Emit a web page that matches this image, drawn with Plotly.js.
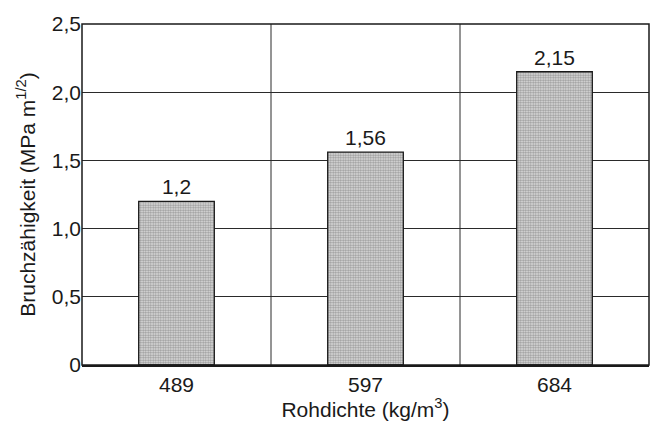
<!DOCTYPE html>
<html>
<head>
<meta charset="utf-8">
<script src="https://cdn.plot.ly/plotly-3.0.1.min.js"></script>
<style>html,body{margin:0;padding:0;background:#fff;}#chart{width:656px;height:421px;}</style>
</head>
<body>
<div id="chart"></div>
<script>
const categories = ["489", "597", "684"];
const values = [1.2, 1.56, 2.15];
const valueLabels = ["1,2", "1,56", "2,15"];
const yTickVals = [0, 0.5, 1.0, 1.5, 2.0, 2.5];
const yTickText = ["0", "0,5", "1,0", "1,5", "2,0", "2,5"];
const dividers = [0.5, 1.5];

const fam = "Arial, 'Liberation Sans', sans-serif";
const ink = "#1a1a1a";

const trace = {
  type: "bar",
  x: categories,
  y: values,
  text: valueLabels,
  textposition: "outside",
  textfont: {family: fam, size: 21, color: ink},
  cliponaxis: false,
  marker: {
    color: "#d4d4d4",
    line: {color: ink, width: 1.3},
    pattern: {shape: ".", size: 2.5, solidity: 0.55, fgcolor: "#9a9a9a", bgcolor: "#e4e4e4"}
  },
  hoverinfo: "none"
};

const shapes = dividers.map(d => ({
  type: "line", xref: "x", yref: "paper", x0: d, x1: d, y0: 0, y1: 1,
  line: {color: "#2a2a2a", width: 1}, layer: "below"
}));
shapes.push({type: "rect", xref: "paper", yref: "paper", x0: 0, x1: 1, y0: 0, y1: 1,
  line: {color: ink, width: 1.5}, fillcolor: "rgba(0,0,0,0)", layer: "above"});

const layout = {
  width: 656, height: 421,
  margin: {l: 82, r: 7, t: 24, b: 56},
  paper_bgcolor: "#fff", plot_bgcolor: "#fff",
  font: {family: fam, color: ink, size: 20},
  showlegend: false,
  bargap: 0.6,
  shapes: shapes,
  xaxis: {
    type: "category",
    tickfont: {family: fam, size: 21, color: ink},
    ticks: "", showgrid: false, zeroline: false,
    showline: true, linecolor: ink, linewidth: 2,
    title: {text: "Rohdichte (kg/m<sup>3</sup>)", font: {family: fam, size: 21, color: ink}, standoff: 0},
    range: [-0.5, 2.5]
  },
  yaxis: {
    range: [0, 2.5],
    tickvals: yTickVals, ticktext: yTickText,
    tickfont: {family: fam, size: 21, color: ink},
    ticks: "", showgrid: true, gridcolor: "#2a2a2a", gridwidth: 1,
    zeroline: false, showline: false,
    title: {text: "Bruchzähigkeit (MPa m<sup>1/2</sup>)", font: {family: fam, size: 21, color: ink}, standoff: 10}
  }
};

Plotly.newPlot("chart", [trace], layout, {displayModeBar: false, staticPlot: true});
</script>
</body>
</html>
